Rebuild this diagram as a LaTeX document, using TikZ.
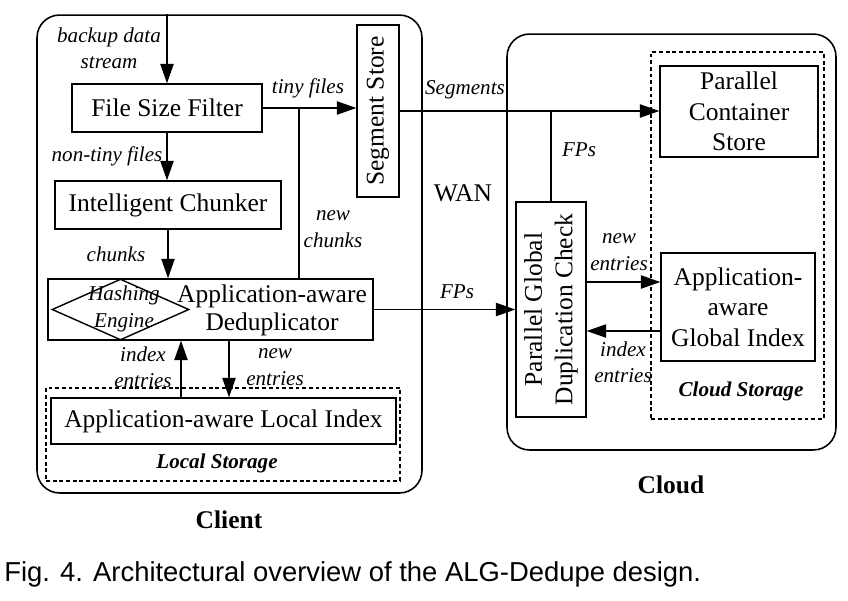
\documentclass[tikz,border=0pt]{standalone}
\usepackage{fontspec}
\setmainfont{Liberation Serif}
\newfontfamily\capfont{Liberation Sans}
\usepackage{graphicx}
\usetikzlibrary{shapes.geometric,arrows.meta,positioning,calc}
\newcommand{\boxsz}{\fontsize{14.5}{17.3}\selectfont}
\newcommand{\lblsz}{\fontsize{12}{15}\selectfont}

\begin{document}
\begin{tikzpicture}[x=0.02cm, y=-0.02cm,
  blk/.style={draw, line width=0.8pt, align=center, font=\boxsz, inner sep=0pt},
  lbl/.style={font=\lblsz\itshape, align=center, inner sep=0pt},
  ttl/.style={font=\boxsz\bfseries, inner sep=0pt},
  stitle/.style={font=\lblsz\bfseries\itshape, inner sep=0pt},
  arr/.style={line width=0.8pt, -{Triangle[length=11pt,width=7.5pt]}},
  ln/.style={line width=0.8pt},
  site/.style={draw, line width=0.9pt, rounded corners=0.45cm},
  store/.style={draw, line width=0.7pt, dash pattern=on 2.2pt off 1.6pt}]
  \useasboundingbox (0,0) rectangle (848,600);

  % client side and cloud side
  \node[site, minimum width=7.7cm, minimum height=9.56cm] (client) at (229.5,254) {};
  \node[site, minimum width=6.58cm, minimum height=8.32cm] (cloud) at (671.5,242) {};
  \node[store, minimum width=7.08cm, minimum height=1.86cm] (localst) at (223,434.5) {};
  \node[store, minimum width=3.46cm, minimum height=7.34cm] (cloudst) at (737.5,235.5) {};

  \node[blk, minimum width=3.8cm, minimum height=0.96cm] (fsf) at (167,108) {File Size Filter};
  \node[blk, minimum width=0.84cm, minimum height=3.44cm] (seg) at (378,111) {\rotatebox{90}{Segment Store}};
  \node[blk, minimum width=4.52cm, minimum height=0.96cm] (chunk) at (168,205) {Intelligent Chunker};
  \node[blk, minimum width=6.5cm, minimum height=1.22cm] (dedup) at (210.5,309.5) {};
  \node[draw, diamond, line width=0.8pt, minimum width=2.74cm, minimum height=1.22cm,
        inner sep=0pt] (hash) at (120.5,309.5) {};
  \node[lbl] (hashtxt) at (124,309) {Hashing\\Engine};
  \node[font=\fontsize{14.5}{16}\selectfont, align=center, inner sep=0pt] (deduptxt) at (272,310)
    {Application-aware\\Deduplicator};
  \node[blk, minimum width=6.9cm, minimum height=0.92cm] (lidx) at (223.5,421) {Application-aware Local Index};

  \node[blk, minimum width=3.16cm, minimum height=1.82cm] (pcs) at (739,111.5) {Parallel\\Container\\Store};
  \node[blk, minimum width=3.08cm, minimum height=2.16cm] (gidx) at (738,307) {Application-\\aware\\Global Index};
  \node[blk, minimum width=1.4cm, minimum height=4.3cm] (pgdc) at (551,309.5)
    {\rotatebox{90}{\begin{tabular}{@{}c@{}}Parallel Global\\Duplication Check\end{tabular}}};

  % data flow
  \draw[arr] (fsf.north |- client.north) -- (fsf.north);
  \draw[arr] (fsf.east) -- (fsf.east -| seg.west);
  \coordinate (tj) at (299,108);
  \draw[ln] (tj) -- (tj |- dedup.north);
  \draw[arr] (fsf.south) -- (fsf.south |- chunk.north);
  \draw[arr] (chunk.south) -- (chunk.south |- dedup.north);
  \coordinate (up) at (181,0);
  \coordinate (dn) at (229,0);
  \draw[arr] (up |- lidx.north) -- (up |- dedup.south);
  \draw[arr] (dn |- dedup.south) -- (dn |- lidx.north);
  \draw[arr] (dedup.east) -- (dedup.east -| pgdc.west);
  \draw[arr] (seg.east) -- (seg.east -| pcs.west);
  \draw[ln] (pgdc.north) -- (pgdc.north |- seg.east);
  \coordinate (ne) at ([yshift=0.5cm]gidx.west);
  \coordinate (ie) at ([yshift=-0.48cm]gidx.west);
  \draw[arr] (ne -| pgdc.east) -- (ne);
  \draw[arr] (ie) -- (ie -| pgdc.east);

  % labels
  \node[lbl] (lbackup) at (109,48) {backup data\\stream};
  \node[lbl] (ltiny) at (308,88) {tiny files};
  \node[lbl] (lnontiny) at (107,156) {non-tiny files};
  \node[lbl] (lchunks) at (116,254) {chunks};
  \node[lbl] (lnewch) at (333,229) {new\\chunks};
  \node[lbl] (lidxent) at (143,367) {index\\entries};
  \node[lbl] (lnewent) at (275,367) {new\\entries};
  \node[stitle] (llocal) at (217,463) {Local Storage};
  \node[ttl] (lclient) at (229,520) {Client};
  \node[lbl] (lseg) at (465,90) {Segments};
  \node[lbl] (lfp1) at (579,150) {FPs};
  \node[font=\boxsz, inner sep=0pt] (lwan) at (463,193) {WAN};
  \node[lbl] (lfp2) at (457,292) {FPs};
  \node[lbl] (lnewent2) at (619,252) {new\\entries};
  \node[lbl] (lidxent2) at (623,362) {index\\entries};
  \node[stitle] (lcloudst) at (741,391) {Cloud Storage};
  \node[ttl] (lcloud) at (671,485) {Cloud};
  \node[font=\capfont\fontsize{15.6}{18}\selectfont, anchor=west, inner sep=0pt] (caption) at (4,574)
    {Fig. 4. Architectural overview of the ALG-Dedupe design.};
\end{tikzpicture}
\end{document}
